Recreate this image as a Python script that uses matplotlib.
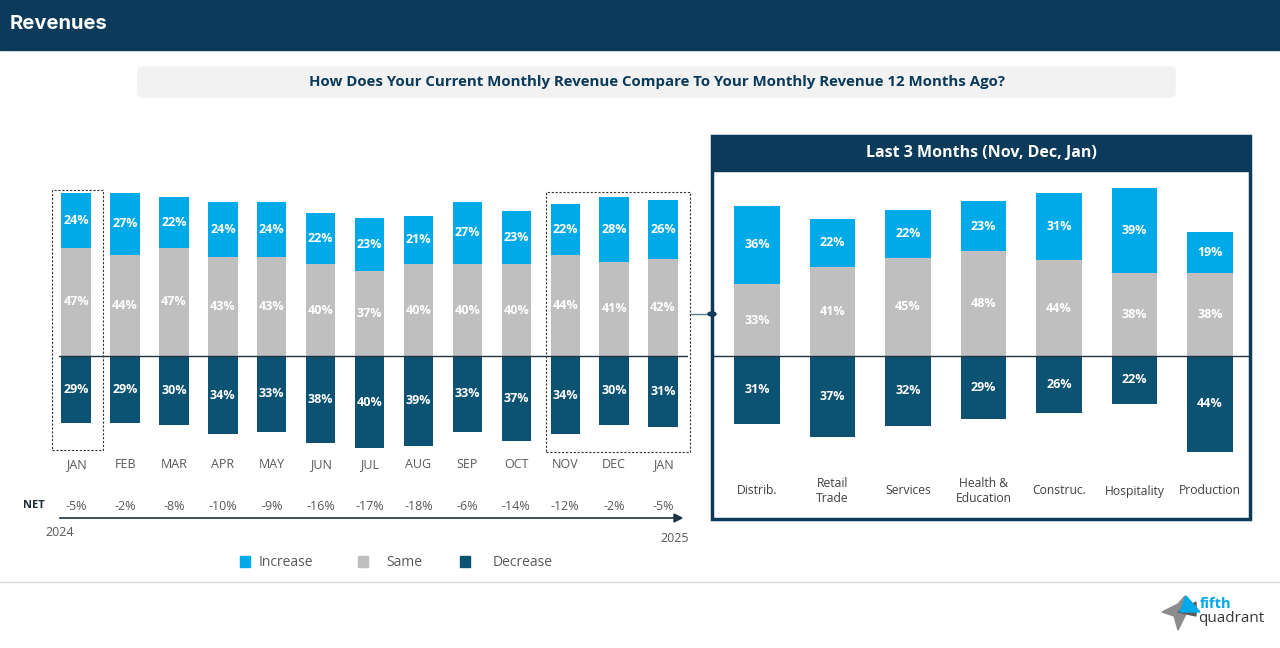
import matplotlib
matplotlib.use("Agg")
import matplotlib.pyplot as plt
from matplotlib.patches import Rectangle, FancyBboxPatch, Polygon, Circle
from matplotlib.lines import Line2D
import matplotlib.transforms as mtransforms

plt.rcParams['font.family'] = ['Open Sans', 'DejaVu Sans']

# ---- data ----
months = ['JAN', 'FEB', 'MAR', 'APR', 'MAY', 'JUN', 'JUL', 'AUG', 'SEP', 'OCT', 'NOV', 'DEC', 'JAN']
increase = [24, 27, 22, 24, 24, 22, 23, 21, 27, 23, 22, 28, 26]
same = [47, 44, 47, 43, 43, 40, 37, 40, 40, 40, 44, 41, 42]
decrease = [29, 29, 30, 34, 33, 38, 40, 39, 33, 37, 34, 30, 31]
net = [-5, -2, -8, -10, -9, -16, -17, -18, -6, -14, -12, -2, -5]

sectors = ['Distrib.', 'Retail\nTrade', 'Services', 'Health &\nEducation', 'Construc.', 'Hospitality', 'Production']
sec_increase = [36, 22, 22, 23, 31, 39, 19]
sec_same = [33, 41, 45, 48, 44, 38, 38]
sec_decrease = [31, 37, 32, 29, 26, 22, 44]

C_INC = '#00a9e7'
C_SAME = '#bfbfbf'
C_DEC = '#0b5273'
NAVY = '#0b3a5a'
GREY_TXT = '#595959'

W, H = 1280, 648
fig = plt.figure(figsize=(12.8, 6.48), dpi=100)


def px(x, y):
    # pixel position -> figure fraction
    return x / W, 1 - y / H


def stacked(ax, inc, sm, dec, width):
    x = range(len(inc))
    ax.bar(x, sm, width, color=C_SAME, zorder=2)
    ax.bar(x, inc, width, bottom=sm, color=C_INC, zorder=2)
    ax.bar(x, [-d for d in dec], width, color=C_DEC, zorder=2)
    for i in x:
        ax.text(i, sm[i] + inc[i] / 2, f'{inc[i]}%', ha='center', va='center',
                color='white', fontsize=9, fontweight='bold', zorder=3)
        ax.text(i, sm[i] / 2, f'{sm[i]}%', ha='center', va='center',
                color='white', fontsize=9, fontweight='bold', zorder=3)
        ax.text(i, -dec[i] / 2, f'{dec[i]}%', ha='center', va='center',
                color='white', fontsize=9, fontweight='bold', zorder=3)
    ax.axhline(0, color='#1d3445', lw=1, zorder=4)
    ax.axis('off')


# ---- header ----
fig.patches.append(Rectangle(px(0, 50), 1, 50 / H, transform=fig.transFigure,
                             color=NAVY, zorder=0))
fig.text(*px(10, 24), 'Revenues', color='white', fontsize=14.5, fontweight='bold',
         family=['Inter', 'DejaVu Sans'], va='center', ha='left')

# ---- question box ----
x0, y0 = px(138, 97)
fig.patches.append(FancyBboxPatch((x0, y0), (1175 - 138) / W, 30 / H,
                                  boxstyle='round,pad=0,rounding_size=0.004',
                                  transform=fig.transFigure, color='#f2f2f2', zorder=0))
fig.text(*px(657, 82), 'How Does Your Current Monthly Revenue Compare To Your Monthly Revenue 12 Months Ago?',
         color=NAVY, fontsize=10.8, fontweight='bold', ha='center', va='center')

# ---- left chart ----
ax1 = fig.add_axes([59 / W, 1 - 460 / H, (687.5 - 59) / W, 280 / H])
stacked(ax1, increase, same, decrease, 0.6)
ax1.set_xlim(-0.35, 12.5)
ax1.set_ylim(-(460 - 356) / 2.3, (356 - 180) / 2.3)

bt = mtransforms.blended_transform_factory(ax1.transData, fig.transFigure)
for i, m in enumerate(months):
    ax1.text(i, 1 - 465 / H, m, transform=bt, ha='center', va='center',
             color=GREY_TXT, fontsize=9)
    ax1.text(i, 1 - 506 / H, f'{net[i]}%', transform=bt, ha='center', va='center',
             color=GREY_TXT, fontsize=9)
fig.text(*px(34, 506), 'NET', ha='center', va='center', color='#1d2b36',
         fontsize=8, fontweight='bold')

# timeline arrow
fig.add_artist(Line2D([60 / W, 676 / W], [1 - 518 / H] * 2, color='#1d3445', lw=1.2))
fig.patches.append(Polygon([px(674, 514), px(682, 518), px(674, 522)], closed=True,
                           transform=fig.transFigure, color='#1d3445'))
fig.text(*px(60, 532), '2024', ha='center', va='center', color=GREY_TXT, fontsize=9)
fig.text(*px(675, 538), '2025', ha='center', va='center', color=GREY_TXT, fontsize=9)

# dashed highlight boxes
for (l, t, r, b) in [(52, 190, 103, 450), (546, 192, 690, 452)]:
    fig.patches.append(Rectangle(px(l, b), (r - l) / W, (b - t) / H, transform=fig.transFigure,
                                 fill=False, ec='#333333', lw=0.8, ls=(0, (2, 1.5)), zorder=5))

# connector to right panel
fig.add_artist(Line2D([690 / W, 712 / W], [1 - 314 / H] * 2, color='#5f7d8c', lw=1))
fig.patches.append(Circle(px(712, 314), 4 / W, transform=fig.transFigure, color=NAVY, zorder=6))

# legend
for lx, tx, c, lab in [(245, 259, C_INC, 'Increase'), (363, 386, C_SAME, 'Same'),
                       (465, 493, C_DEC, 'Decrease')]:
    fig.patches.append(Rectangle(px(lx - 5, 567), 10 / W, 11 / H, transform=fig.transFigure, color=c))
    fig.text(*px(tx, 562), lab, ha='left', va='center', color=GREY_TXT, fontsize=10)

# ---- right panel ----
fig.patches.append(Rectangle(px(712, 519), (1250 - 712) / W, (519 - 136) / H,
                             transform=fig.transFigure, fill=False, ec=NAVY, lw=2.5, zorder=5))
fig.patches.append(Rectangle(px(712, 171), (1250 - 712) / W, 35 / H,
                             transform=fig.transFigure, color=NAVY, zorder=5))
fig.text(*px(981, 153), 'Last 3 Months (Nov, Dec, Jan)', ha='center', va='center',
         color='white', fontsize=11.5, fontweight='bold', zorder=6)

step2 = 75.5
ax2 = fig.add_axes([712 / W, 1 - 470 / H, (1249 - 712) / W, (470 - 172) / H])
stacked(ax2, sec_increase, sec_same, sec_decrease, 0.6)
ax2.set_xlim((712 - 757) / step2, (1249 - 757) / step2)
ax2.set_ylim(-(470 - 356) / 2.18, (356 - 172) / 2.18)

bt2 = mtransforms.blended_transform_factory(ax2.transData, fig.transFigure)
for i, s in enumerate(sectors):
    ax2.text(i, 1 - 491 / H, s, transform=bt2, ha='center', va='center',
             color='#404040', fontsize=8.7, linespacing=1.15)

# ---- footer ----
fig.add_artist(Line2D([0, 1], [1 - 582 / H] * 2, color='#d9d9d9', lw=1))
fig.patches.append(Polygon([px(1162, 612), px(1178, 604), px(1185, 596), px(1186, 614),
                            px(1178, 630), px(1174, 616)], closed=True,
                           transform=fig.transFigure, color='#8c8c8c'))
fig.patches.append(Polygon([px(1178, 612), px(1196, 602), px(1196, 616)], closed=True,
                           transform=fig.transFigure, color='#5a5a5a'))
fig.patches.append(Polygon([px(1186, 596), px(1200, 612), px(1180, 612)], closed=True,
                           transform=fig.transFigure, color=C_INC))
fig.text(*px(1200, 604), 'fifth', ha='left', va='center', color=C_INC, fontsize=10.5,
         fontweight='bold')
fig.text(*px(1198, 619), 'quadrant', ha='left', va='center', color='#3a3a3a', fontsize=11)

fig.savefig('out.png', dpi=100, facecolor='white')
